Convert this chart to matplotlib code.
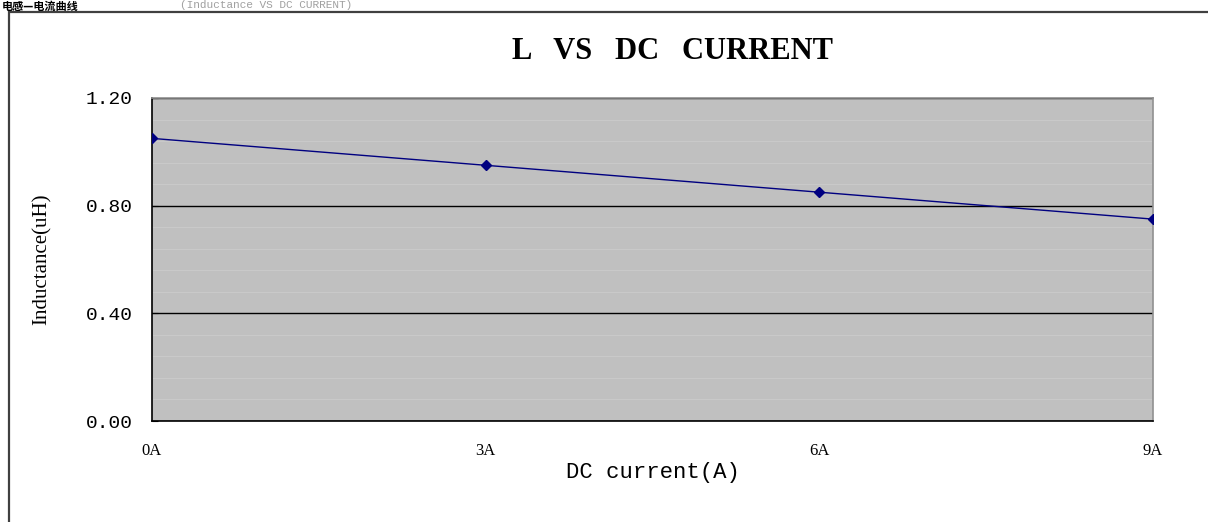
import numpy as np
import matplotlib.pyplot as plt
from matplotlib.patches import Rectangle
from matplotlib.ticker import MultipleLocator

# data
currentLabels = ['0A', '3A', '6A', '9A']
currentValues = [0, 3, 6, 9]
inductance = [1.05, 0.95, 0.85, 0.75]
yTicks = [0.0, 0.4, 0.8, 1.2]

fig = plt.figure(figsize=(12.08, 5.22), dpi=100)
fig.patch.set_facecolor('white')

# outer chart frame (runs off the right and bottom edges)
frame = Rectangle((9/1208, -0.05), 1.2, 1 - 12/522 + 0.05, transform=fig.transFigure,
                  fill=False, edgecolor='#404040', linewidth=1.6)
fig.patches.append(frame)

# heading above the chart frame
fig.text(2/1208, 1.0, '电感—电流曲线', family=['Noto Sans CJK SC', 'DejaVu Sans'],
         fontsize=8, fontweight='bold', ha='left', va='top', color='black')
fig.text(180/1208, 1.0, '(Inductance VS DC CURRENT)', family=['Liberation Mono'],
         fontsize=8, ha='left', va='top', color='#a0a0a0')

ax = fig.add_axes([152/1208, 1 - 421/522, (1153 - 152)/1208, (421 - 98)/522])
ax.set_facecolor('#c0c0c0')

ax.plot(currentValues, inductance, color='#000080', linewidth=1.0,
        marker='D', markersize=5, markerfacecolor='#000080', markeredgecolor='#000080', zorder=5)

ax.set_xlim(0, 9)
ax.set_ylim(0, 1.2)
ax.set_xticks(currentValues)
ax.set_xticklabels(currentLabels, family='Liberation Serif', fontsize=12)
ax.set_yticks(yTicks)
ax.set_yticklabels(['%.2f' % v for v in yTicks], family='Liberation Mono', fontsize=14)
ax.yaxis.set_minor_locator(MultipleLocator(0.08))

ax.grid(True, which='major', axis='y', color='black', linewidth=1.0)
ax.grid(True, which='minor', axis='y', color='#c9c9c9', linewidth=0.8)
ax.set_axisbelow(True)

ax.tick_params(axis='y', which='major', direction='in', length=4, pad=14, color='black')
ax.tick_params(axis='y', which='minor', length=0)
ax.tick_params(axis='x', direction='in', length=0, pad=16)

for side in ['left', 'bottom']:
    ax.spines[side].set_color('black')
    ax.spines[side].set_linewidth(1.2)
for side in ['top', 'right']:
    ax.spines[side].set_color('#909090')
    ax.spines[side].set_linewidth(1.2)

ax.set_title('L   VS   DC   CURRENT', family='Liberation Serif', fontweight='bold',
             fontsize=22, pad=28, x=0.52)
ax.set_xlabel('DC current(A)', family='Liberation Mono', fontsize=16, labelpad=2)
ax.set_ylabel('Inductance(uH)', family='Liberation Serif', fontsize=15, labelpad=24)

fig.savefig('out.png', dpi=100)
